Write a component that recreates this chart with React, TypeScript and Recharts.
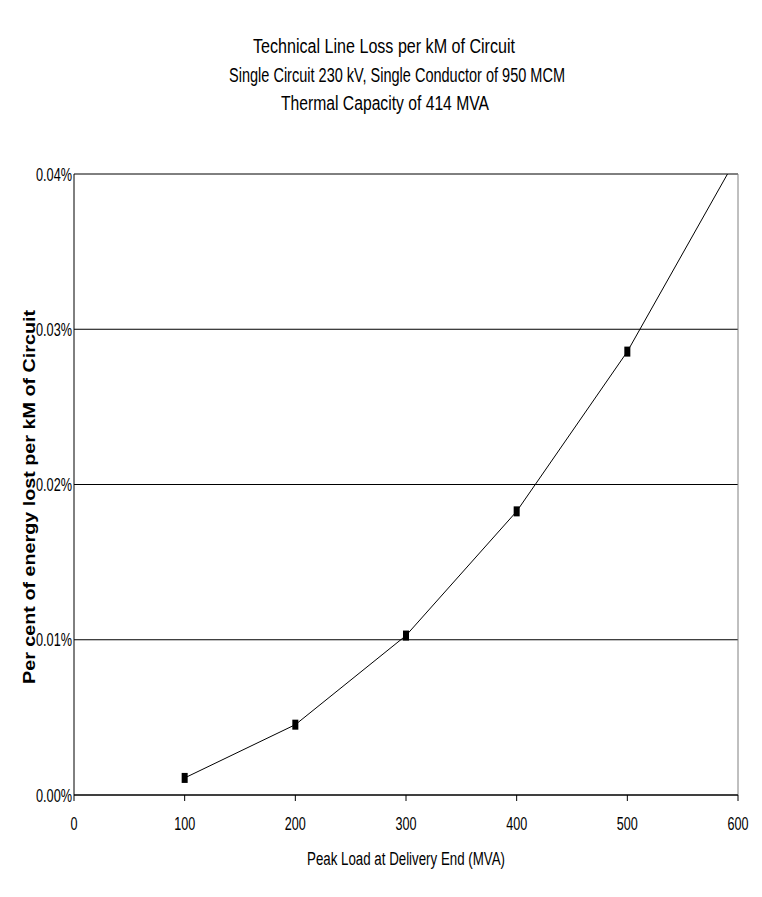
import React from "react";
import {
  LineChart, Line, XAxis, YAxis, CartesianGrid, ReferenceLine,
} from "recharts";

// Peak load (MVA) vs percent of energy lost per kM
const LOADS = [100, 200, 300, 400, 500, 600];
const LOSS_PCT = [0.0011, 0.00453, 0.01027, 0.01827, 0.02856, 0.0412];
const X_TICKS = [0, 100, 200, 300, 400, 500, 600];
const Y_TICKS = [0, 0.01, 0.02, 0.03, 0.04];

const TITLE_LINES = [
  "Technical Line Loss per kM of Circuit",
  "Single Circuit 230 kV, Single Conductor of 950 MCM",
  "Thermal Capacity of 414 MVA",
];
const X_TITLE = "Peak Load at Delivery End (MVA)";
const Y_TITLE = "Per cent of energy lost per kM of Circuit";

const FONT = "'Liberation Sans', Arial, sans-serif";
const Y_MAX = 0.04;

const data = LOADS.map((load, i) => ({ load, loss: LOSS_PCT[i] }));

function BoxDot(props: any) {
  const { cx, cy, payload } = props;
  if (cx == null || cy == null || payload.loss > Y_MAX) return null;
  return <rect x={cx - 3} y={cy - 5} width={6} height={10} fill="#000" />;
}

// squeezed tick labels, like the narrow font of the original
function XTick(props: any) {
  const { x, y, payload } = props;
  const s = String(payload.value);
  return (
    <text
      x={x - s.length * 3.5}
      y={y + 13}
      fontSize={18}
      fontFamily={FONT}
      fill="#000"
      textLength={s.length * 7}
      lengthAdjust="spacingAndGlyphs"
    >
      {s}
    </text>
  );
}

function YTick(props: any) {
  const { x, y, payload } = props;
  const s = `${payload.value.toFixed(2)}%`;
  return (
    <text
      x={x - 36}
      y={y + 6.5}
      fontSize={18}
      fontFamily={FONT}
      fill="#000"
      textLength={36}
      lengthAdjust="spacingAndGlyphs"
    >
      {s}
    </text>
  );
}

export default function App() {
  return (
    <div style={{ position: "absolute", left: 0, top: 0, width: 762, height: 897, background: "#fff" }}>
      <LineChart
        width={762}
        height={897}
        data={data}
        margin={{ top: 174, right: 24, bottom: 72, left: 14 }}
      >
        <CartesianGrid horizontal vertical={false} stroke="#000" strokeOpacity={1} />
        <ReferenceLine y={Y_MAX} stroke="#808080" />
        <ReferenceLine x={600} stroke="#808080" />
        <XAxis
          type="number"
          dataKey="load"
          domain={[0, 600]}
          ticks={X_TICKS}
          interval={0}
          stroke="#000"
          tickSize={6}
          tickMargin={16}
          height={30}
          tick={<XTick />}
        />
        <YAxis
          type="number"
          domain={[0, Y_MAX]}
          ticks={Y_TICKS}
          allowDataOverflow
          interval={0}
          width={60}
          stroke="#000"
          tickLine={false}
          tickSize={0}
          tickMargin={2}
          tick={<YTick />}
        />
        <Line
          type="linear"
          dataKey="loss"
          stroke="#000"
          strokeWidth={1}
          dot={<BoxDot />}
          activeDot={false}
          isAnimationActive={false}
        />
      </LineChart>
      <svg
        width={762}
        height={897}
        style={{ position: "absolute", left: 0, top: 0, pointerEvents: "none" }}
      >
        <g fontFamily={FONT} fill="#000">
          <text x={253} y={53} fontSize={20} textLength={262} lengthAdjust="spacingAndGlyphs">{TITLE_LINES[0]}</text>
          <text x={229} y={82} fontSize={20} textLength={336} lengthAdjust="spacingAndGlyphs">{TITLE_LINES[1]}</text>
          <text x={281} y={110} fontSize={20} textLength={208} lengthAdjust="spacingAndGlyphs">{TITLE_LINES[2]}</text>
          <text x={307} y={865} fontSize={18} textLength={198} lengthAdjust="spacingAndGlyphs">{X_TITLE}</text>
          <text
            transform="translate(35, 684) rotate(-90)"
            fontSize={16}
            fontWeight="bold"
            textLength={374}
            lengthAdjust="spacingAndGlyphs"
          >
            {Y_TITLE}
          </text>
        </g>
      </svg>
    </div>
  );
}
